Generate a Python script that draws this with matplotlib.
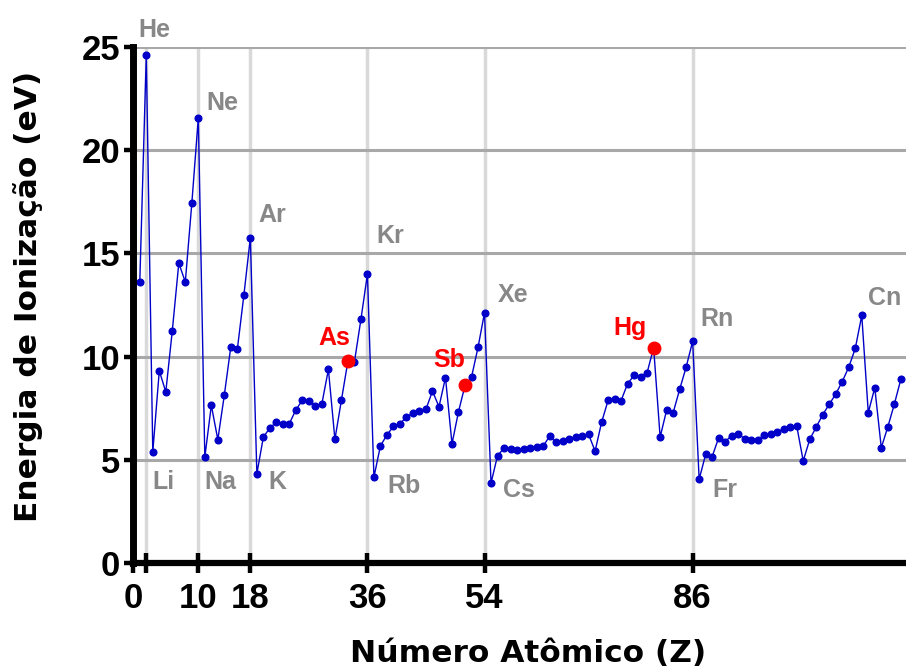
import numpy as np
import matplotlib
matplotlib.use('Agg')
import matplotlib.pyplot as plt

plt.rcParams['font.family'] = ['Liberation Sans', 'DejaVu Sans']
plt.rcParams['font.weight'] = 'bold'

# first ionization energy (eV), Z = 1..118
energia = [13.60, 24.59, 5.39, 9.32, 8.30, 11.26, 14.53, 13.62, 17.42, 21.56,
           5.14, 7.65, 5.99, 8.15, 10.49, 10.36, 12.97, 15.76, 4.34, 6.11,
           6.56, 6.83, 6.75, 6.77, 7.43, 7.90, 7.88, 7.64, 7.73, 9.39,
           6.00, 7.90, 9.79, 9.75, 11.81, 14.00, 4.18, 5.69, 6.22, 6.63,
           6.76, 7.09, 7.28, 7.36, 7.46, 8.34, 7.58, 8.99, 5.79, 7.34,
           8.61, 9.01, 10.45, 12.13, 3.89, 5.21, 5.58, 5.54, 5.47, 5.53,
           5.58, 5.64, 5.67, 6.15, 5.86, 5.94, 6.02, 6.11, 6.18, 6.25,
           5.43, 6.83, 7.89, 7.98, 7.88, 8.70, 9.10, 9.00, 9.23, 10.44,
           6.11, 7.42, 7.29, 8.42, 9.50, 10.75, 4.07, 5.28, 5.17, 6.08,
           5.89, 6.19, 6.27, 6.03, 5.97, 5.99, 6.20, 6.28, 6.37, 6.50,
           6.58, 6.65, 4.96, 6.00, 6.60, 7.20, 7.70, 8.20, 8.80, 9.50,
           10.40, 12.00, 7.30, 8.50, 5.60, 6.60, 7.70, 8.90]
Z = np.arange(1, len(energia) + 1)

gases_nobres = [2, 10, 18, 36, 54, 86]
xticks = [0, 2, 10, 18, 36, 54, 86]
xtick_labels = ['0', '', '10', '18', '36', '54', '86']
yticks = [0, 5, 10, 15, 20, 25]

# gray labels: symbol, Z, offset in points
rotulos = [('He', 2, (-6, 13)), ('Ne', 10, (5.5, 5.5)), ('Ar', 18, (5.7, 11.2)),
           ('Kr', 36, (6.6, 22.3)), ('Xe', 54, (9.6, 7.7)), ('Rn', 86, (5.3, 11)),
           ('Cn', 112, (4.4, 7.5)), ('Li', 3, (-0.6, -26.6)), ('Na', 11, (0, -22.9)),
           ('K', 19, (8, -11)), ('Rb', 37, (10, -11.4)), ('Cs', 55, (8.6, -10.2)),
           ('Fr', 87, (9.2, -12.8))]
# red highlighted elements
destaque = [('As', 33, (-21.6, 11.6)), ('Sb', 51, (-23.1, 13.3)), ('Hg', 80, (-29.3, 9.1))]

fig = plt.figure(figsize=(9.06, 6.69), dpi=100)
ax = fig.add_axes([0.1471, 0.1578, 0.8529, 0.7723])

for y in yticks[1:]:
    ax.axhline(y, color='#a8a8a8', lw=2.2, zorder=1)
for g in gases_nobres:
    ax.axvline(g, color='#d9d9d9', lw=2.5, zorder=0.5)

ax.plot(Z, energia, '-o', color='#0000c8', lw=1.0, ms=4.8, zorder=3)

for nome, z, off in destaque:
    ax.plot(z, energia[z - 1], 'o', color='#ff0000', ms=9, zorder=4)
    ax.annotate(nome, (z, energia[z - 1]), xytext=off, textcoords='offset points',
                color='#ff0000', fontsize=18, fontweight='bold', va='baseline', ha='left',
                annotation_clip=False)

for nome, z, off in rotulos:
    ax.annotate(nome, (z, energia[z - 1]), xytext=off, textcoords='offset points',
                color='#888888', fontsize=18, fontweight='bold', va='baseline', ha='left',
                annotation_clip=False)

ax.set_xlim(0, 118.8)
ax.set_ylim(0, 25)
ax.spines['top'].set_visible(False)
ax.spines['right'].set_visible(False)
ax.spines['left'].set_linewidth(5)
ax.spines['bottom'].set_linewidth(4.5)
ax.spines['left'].set_zorder(5)
ax.spines['bottom'].set_zorder(5)

ax.set_xticks(xticks)
ax.set_xticklabels(xtick_labels)
ax.set_yticks(yticks)
ax.tick_params(axis='x', direction='inout', length=15, width=3.2, pad=6,
               labelsize=25)
ax.tick_params(axis='y', direction='out', length=6.5, width=3.2, pad=3,
               labelsize=25)
for lab in ax.get_xticklabels() + ax.get_yticklabels():
    lab.set_fontweight('bold')

# axis titles are wider in the original, DejaVu Sans Bold matches the width
fig.text(37 / 906, 0.5575, 'Energia de Ionização (eV)', rotation=90,
         rotation_mode='anchor', ha='center', va='baseline', fontsize=22.5,
         fontweight='bold', family='DejaVu Sans')
fig.text(0.5828, 0.0105, 'Número Atômico (Z)', ha='center', va='baseline',
         fontsize=22.5, fontweight='bold', family='DejaVu Sans')

plt.savefig('out.png', dpi=100)
